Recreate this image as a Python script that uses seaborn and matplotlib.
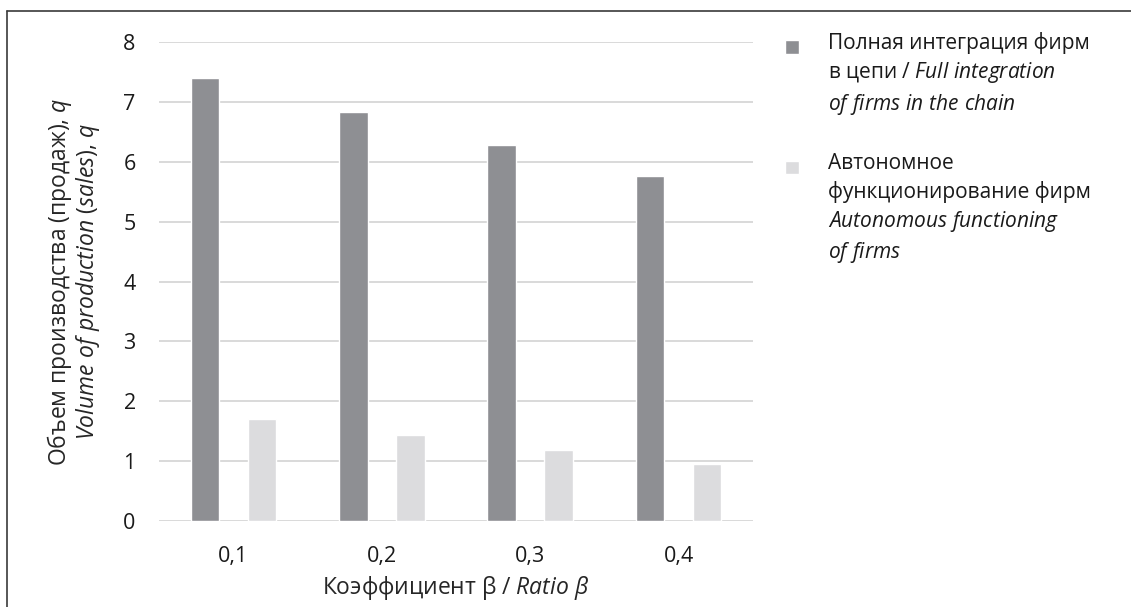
import matplotlib
matplotlib.use("Agg")
import matplotlib.pyplot as plt
from matplotlib.legend_handler import HandlerPatch
from matplotlib.lines import Line2D
from matplotlib.patches import Rectangle
import pandas as pd
import seaborn as sns

# values
betas = ["0,1", "0,2", "0,3", "0,4"]
full_integration = [7.41, 6.84, 6.29, 5.77]
autonomous = [1.70, 1.43, 1.18, 0.95]
series_names = ["full", "autonomous"]
legend_labels = [
    "Полная интеграция фирм\nв цепи / $\\mathit{Full\\ integration}$\n$\\mathit{of\\ firms\\ in\\ the\\ chain}$",
    "Автономное\nфункционирование фирм\n$\\mathit{Autonomous\\ functioning}$\n$\\mathit{of\\ firms}$",
]
colors = ["#8e8f93", "#dcdcde"]

df = pd.DataFrame({
    "beta": betas * 2,
    "q": full_integration + autonomous,
    "series": [series_names[0]] * len(betas) + [series_names[1]] * len(betas),
})

sns.set_theme(style="white")
plt.rcParams["font.family"] = ["Open Sans", "DejaVu Sans"]
plt.rcParams["mathtext.fontset"] = "custom"
plt.rcParams["mathtext.rm"] = "Open Sans"
plt.rcParams["mathtext.it"] = "Open Sans:italic"
plt.rcParams["text.color"] = "#1a1a1a"

fs = 15.5
leg_fs = 15
lab_fs = 16.5
fig = plt.figure(figsize=(11.31, 6.07), dpi=100)
ax = fig.add_axes([159.3 / 1131, 1 - 520.7 / 607, (752.7 - 159.3) / 1131, (520.7 - 42.3) / 607])

sns.barplot(data=df, x="beta", y="q", hue="series", palette=colors,
            width=0.77, gap=0.5, saturation=1, ax=ax)

ax.set_ylim(0, 8)
ax.set_xlim(-0.5, 3.5)
ax.set_yticks(range(0, 9))
ax.yaxis.grid(True, color="#d9d9d9", lw=1.4)
ax.set_axisbelow(True)
for s in ax.spines.values():
    s.set_visible(False)
ax.tick_params(axis="y", length=0, pad=17, labelsize=fs, labelcolor="#1a1a1a")
ax.tick_params(axis="x", length=0, pad=18, labelsize=fs, labelcolor="#1a1a1a")

ax.set_xlabel("Коэффициент β / $\\mathit{Ratio\\ β}$", fontsize=lab_fs, labelpad=5)
ax.set_ylabel("Объем производства (продаж), $\\mathit{q}$\n"
              "$\\mathit{Volume\\ of\\ production\\ (sales)}$, $\\mathit{q}$",
              fontsize=lab_fs, labelpad=15, linespacing=1.0)

# legend: square aligned with the first line of each label
handles, _ = ax.get_legend_handles_labels()
line_h = 20.5


def square_at_top(n_lines):
    def make(legend, orig_handle, xdescent, ydescent, width, height, fontsize):
        side = 10.0
        shift = (n_lines - 1) / 2 * line_h
        return Rectangle((-xdescent + (width - side) / 2, -ydescent + (height - side) / 2 + shift),
                         side, side)
    return make


hmap = {handles[0]: HandlerPatch(patch_func=square_at_top(3)),
        handles[1]: HandlerPatch(patch_func=square_at_top(4))}
leg = ax.legend(handles, legend_labels, handler_map=hmap, loc="upper left",
                bbox_to_anchor=(782 / 1131, 1 - 32 / 607), bbox_transform=fig.transFigure,
                frameon=False, fontsize=leg_fs, handlelength=1.0, handleheight=0.7,
                handletextpad=1.2, labelspacing=1.75, borderpad=0, borderaxespad=0)
for t in leg.get_texts():
    t.set_linespacing(1.36)

# page frame (left and top edges)
fig.add_artist(Line2D([7 / 1131, 7 / 1131], [0, 1 - 11 / 607], transform=fig.transFigure,
                      color="#3a3a3a", lw=1.2))
fig.add_artist(Line2D([7 / 1131, 1], [1 - 11 / 607, 1 - 11 / 607], transform=fig.transFigure,
                      color="#3a3a3a", lw=1.2))

fig.savefig("out.png", dpi=100)
